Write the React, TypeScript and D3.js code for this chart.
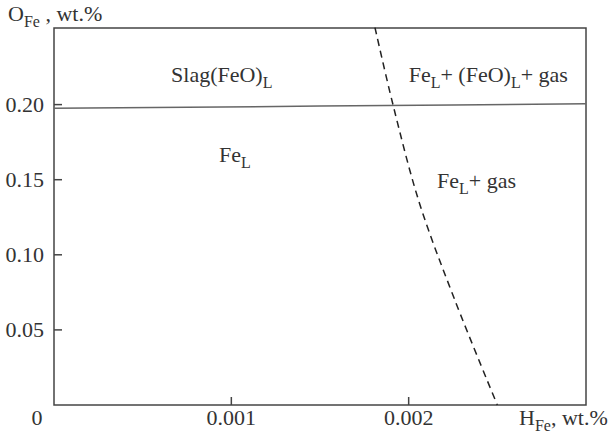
import React from "react";
import * as d3 from "d3";

// axes
const xDomain = [0, 0.003];
const yDomain = [0, 0.251];
const xTicks = [0.001, 0.002];
const xTickLabels = ["0.001", "0.002"];
const yTicks = [0.05, 0.1, 0.15, 0.2];
const yTickLabels = ["0.05", "0.10", "0.15", "0.20"];

// slag / metal boundary (solid)
const slagH = [0, 0.0015, 0.003];
const slagO = [0.1975, 0.199, 0.2005];

// gas boundary (dashed)
const gasH = [0.00181, 0.00191, 0.00206, 0.00226, 0.0025];
const gasO = [0.2513, 0.2007, 0.1347, 0.07, 0];

// region labels, pieces flagged true are subscripts
const regionParts: [string, boolean][][] = [
  [["Slag(FeO)", false], ["L", true]],
  [["Fe", false], ["L", true]],
  [["Fe", false], ["L", true], ["+ (FeO)", false], ["L", true], ["+ gas", false]],
  [["Fe", false], ["L", true], ["+ gas", false]],
];
const regionH = [0.00066, 0.00093, 0.002, 0.00216];
const regionO = [0.215, 0.162, 0.2153, 0.1447];

const W = 613;
const H = 437;
const margin = { top: 28, right: 27, bottom: 32, left: 54 };
const FONT = "Liberation Serif";
const FS = 22;
const SUB = 16;
const TXT = "#333";
const AXIS = "#444";

function Rich({ x, y, parts }: { x: number; y: number; parts: [string, boolean][] }) {
  let down = false;
  return (
    <text x={x} y={y} fontFamily={FONT} fontSize={FS} fill={TXT}>
      {parts.map(([s, sub], i) => {
        let dy = 0;
        if (sub && !down) { dy = 6; down = true; }
        else if (!sub && down) { dy = -6; down = false; }
        return (
          <tspan key={i} dy={dy} fontSize={sub ? SUB : FS}>{s}</tspan>
        );
      })}
    </text>
  );
}

export default function App() {
  const x = d3.scaleLinear().domain(xDomain).range([margin.left, W - margin.right]);
  const y = d3.scaleLinear().domain(yDomain).range([H - margin.bottom, margin.top]);
  const x0 = x(0), yb = y(0);

  const slagPath = d3.line().curve(d3.curveMonotoneX)(
    slagH.map((h, i) => [x(h), y(slagO[i])] as [number, number])
  );
  const gasPath = d3.line().curve(d3.curveCatmullRom)(
    gasH.map((h, i) => [x(h), y(gasO[i])] as [number, number])
  );

  return (
    <div style={{ position: "absolute", left: 0, top: 0, background: "#fff" }}>
      <svg width={W} height={H} style={{ display: "block" }}>
        <rect x={x0} y={y(yDomain[1])} width={x(xDomain[1]) - x0} height={yb - y(yDomain[1])}
          fill="none" stroke={AXIS} strokeWidth={1.5} />
        {yTicks.map((d, i) => (
          <g key={"y" + i}>
            <line x1={x0} x2={x0 + 8} y1={y(d)} y2={y(d)} stroke={AXIS} strokeWidth={1.5} />
            <text x={x0 - 10} y={y(d) + 7} textAnchor="end" fontFamily={FONT} fontSize={FS} fill={TXT}>
              {yTickLabels[i]}
            </text>
          </g>
        ))}
        {xTicks.map((d, i) => (
          <g key={"x" + i}>
            <line x1={x(d)} x2={x(d)} y1={yb} y2={yb - 8} stroke={AXIS} strokeWidth={1.5} />
            <text x={x(d)} y={yb + 20} textAnchor="middle" fontFamily={FONT} fontSize={FS} fill={TXT}>
              {xTickLabels[i]}
            </text>
          </g>
        ))}
        <text x={x0 - 17} y={yb + 20} textAnchor="middle" fontFamily={FONT} fontSize={FS} fill={TXT}>0</text>

        <Rich x={8} y={21} parts={[["O", false], ["Fe", true], [" , wt.%", false]]} />
        <Rich x={519} y={yb + 20} parts={[["H", false], ["Fe", true], [", wt.%", false]]} />

        <path d={slagPath || ""} fill="none" stroke="#666" strokeWidth={1.5} />
        <path d={gasPath || ""} fill="none" stroke="#222" strokeWidth={1.5} strokeDasharray="7,5" />

        {regionParts.map((p, i) => (
          <Rich key={"r" + i} x={x(regionH[i])} y={y(regionO[i])} parts={p} />
        ))}
      </svg>
    </div>
  );
}
